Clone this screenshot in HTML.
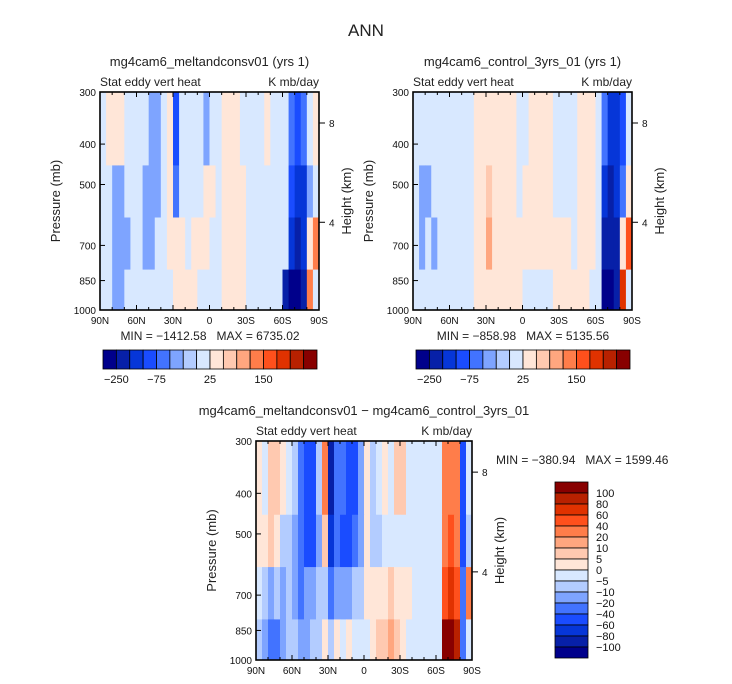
<!DOCTYPE html>
<html><head><meta charset="utf-8">
<style>
html,body{margin:0;padding:0;background:#fff;}
svg{display:block;font-family:"Liberation Sans",sans-serif;}
</style></head>
<body>
<svg id="chart" width="732" height="684" viewBox="0 0 732 684" xmlns="http://www.w3.org/2000/svg">
<text x="366" y="36" font-size="17" text-anchor="middle" fill="#222">ANN</text>
</svg>
<script>
// ---- data ----
const latEdges = [90,85,80,75,70,65,60,55,50,45,40,35,30,25,20,15,10,5,0,-5,-10,-15,-20,-25,-30,-35,-40,-45,-50,-55,-60,-65,-70,-75,-80,-85,-90];
const presEdges = [300,450,600,800,1000];
const presTicks = [300,400,500,700,850,1000];
const heightTicks = ["8","4"];
const heightTickPres = [356,616];
const latTicks = [90,60,30,0,-30,-60,-90];
const latTickLabels = ["90N","60N","30N","0","30S","60S","90S"];
const panelLevels = [-250,-150,-100,-75,-50,-25,0,25,50,75,100,150,200,250,300];
const panelBarLabels = ["-250","-75","25","150"];
const panelBarLabelIdx = [1,4,8,12];
const diffLevels = [-100,-80,-60,-40,-20,-10,-5,0,5,10,20,40,60,80,100];
const diffBarLabels = ["100","80","60","40","20","10","5","0","\u22125","\u221210","\u221220","\u221240","\u221260","\u221280","\u2212100"];
const colors = ["#00008b","#0720a8","#0636d8","#1a4cff","#4273ff","#7ea4ff","#b3ccff","#d8e8ff","#ffe6d8","#ffc9b0","#ffa67f","#ff7d4a","#ff501c","#e03200","#b82100","#880000"];

const meltRow0 = [10,35,35,35,10,10,10,10,-40,-40,10,35,-90,10,10,10,10,-40,10,10,35,35,35,10,10,10,10,35,10,10,10,-60,-90,-60,10,35];
const meltRow1 = [10,10,-40,-40,10,10,10,-40,-40,-40,10,35,-60,10,10,10,10,35,35,10,35,35,35,35,10,10,10,10,10,10,10,-90,-120,-120,-40,10];
const meltRow2 = [10,10,-40,-40,-40,10,10,-40,-40,10,10,35,35,35,10,35,35,35,10,10,35,35,35,35,10,10,10,10,10,10,10,-120,-200,-120,35,120];
const meltRow3 = [10,10,-40,-40,10,10,10,10,10,10,10,10,35,35,35,35,10,10,10,10,35,35,35,35,10,10,10,10,10,10,-200,-300,-300,-200,120,10];

const ctrlRow0 = [10,10,10,10,10,10,10,10,10,10,35,35,35,35,35,35,35,10,10,35,35,35,35,10,10,10,10,35,35,35,10,-60,-150,-150,-90,10];
const ctrlRow1 = [10,-40,-40,10,10,10,10,10,10,10,35,35,60,35,35,35,35,10,35,35,35,35,35,10,10,10,10,35,35,35,10,-150,-200,-150,-60,35];
const ctrlRow2 = [10,-40,10,-40,10,10,10,10,10,10,35,35,90,35,35,35,35,35,35,35,35,35,35,35,35,35,10,35,35,35,10,-200,-200,-200,35,170];
const ctrlRow3 = [10,10,10,10,10,10,10,10,10,10,35,35,35,35,35,35,35,35,10,10,10,10,10,35,35,35,35,35,35,10,10,-300,-300,-250,200,10];

const diffRow0 = [2,-2,7,7,2,-2,-7,-30,-50,-50,-7,30,-90,-30,-30,-50,-50,-15,2,-7,-2,2,-2,7,7,-2,-2,-2,-2,-2,-2,30,30,30,-50,-2];
const diffRow1 = [2,2,7,2,-7,-7,-15,-30,-50,-50,-15,7,-70,-30,-50,-50,-30,-15,2,-7,-7,-2,-2,-2,-2,-2,-2,-2,-2,-2,-2,30,50,30,-50,-7];
const diffRow2 = [-2,-7,-15,-7,-15,-7,-15,-30,-15,-15,-7,-7,-30,-15,-15,-15,-7,-7,2,2,2,2,7,2,2,2,-2,-2,-2,-2,-2,50,70,50,-40,30];
const diffRow3 = [-7,-15,-30,-30,-15,-7,-7,-15,-15,-7,-7,2,-7,2,-2,2,-2,-2,-2,2,7,7,15,7,2,-2,-2,-2,-2,-2,-2,120,120,90,-40,-2];

const minMax1 = "MIN = \u22121412.58   MAX = 6735.02";
const minMax2 = "MIN = \u2212858.98   MAX = 5135.56";
const minMax3 = "MIN = \u2212380.94   MAX = 1599.46";

// ---- drawing ----
const NS = "http://www.w3.org/2000/svg";
const svg = document.getElementById("chart");
function mk(tag, attrs, parent){
  const e = document.createElementNS(NS, tag);
  for (const k in attrs) e.setAttribute(k, attrs[k]);
  (parent||svg).appendChild(e);
  return e;
}
function colorFor(v, levels){
  let i = 0;
  while (i < levels.length && v >= levels[i]) i++;
  return colors[i];
}
function drawPanel(p){
  const g = mk("g", {});
  
  
  const xS = lat => p.x0 + (90 - lat) / 180 * (p.x1 - p.x0);
  const yS = pr => p.y0 + Math.log(pr / 300) / Math.log(1000 / 300) * (p.y1 - p.y0);
  p.rows.forEach((row, r) => {
    row.forEach((v, c) => {
      const xa = xS(latEdges[c]), xb = xS(latEdges[c + 1]);
      const ya = yS(presEdges[r]), yb = yS(presEdges[r + 1]);
      const cell = mk("rect", {x: xa, y: ya, width: xb - xa + 0.4, height: yb - ya + 0.4, fill: colorFor(v, p.levels)}, g);
      
      
    });
  });
  const frame = mk("rect", {x: p.x0, y: p.y0, width: p.x1 - p.x0, height: p.y1 - p.y0, fill: "none", stroke: "#000", "stroke-width": 1.6}, g);
  
  
  presTicks.forEach(pr => {
    const y = yS(pr);
    mk("line", {x1: p.x0, x2: p.x0 + 5, y1: y, y2: y, stroke: "#000"}, g);
    const t = mk("text", {x: p.x0 - 4, y: y + 4, "font-size": 10, "text-anchor": "end", fill: "#111"}, g);
    t.textContent = pr;
    
    
  });
  heightTicks.forEach((h, i) => {
    const y = yS(heightTickPres[i]);
    mk("line", {x1: p.x1, x2: p.x1 + 6, y1: y, y2: y, stroke: "#000"}, g);
    const t = mk("text", {x: p.x1 + 10, y: y + 4, "font-size": 10, fill: "#111"}, g);
    t.textContent = h;
    
    
  });
  for (let lat = 90; lat >= -90; lat -= 10) {
    const x = xS(lat), len = (lat % 30 === 0) ? 5 : 3;
    mk("line", {x1: x, x2: x, y1: p.y1, y2: p.y1 - len, stroke: "#000"}, g);
    mk("line", {x1: x, x2: x, y1: p.y0, y2: p.y0 + len, stroke: "#000"}, g);
  }
  latTicks.forEach((lat, i) => {
    const t = mk("text", {x: xS(lat), y: p.y1 + 14, "font-size": 10, "text-anchor": "middle", fill: "#111"}, g);
    t.textContent = latTickLabels[i];
    
    
  });
  const tt = mk("text", {x: (p.x0 + p.x1) / 2, y: p.y0 - 26, "font-size": 13, "text-anchor": "middle", fill: "#222"}, g);
  tt.textContent = p.title;
  
  
  const sub = mk("text", {x: p.x0, y: p.y0 - 6, "font-size": 12, fill: "#222"}, g);
  sub.textContent = "Stat eddy vert heat";
  
  
  const un = mk("text", {x: p.x1, y: p.y0 - 6, "font-size": 12, "text-anchor": "end", fill: "#222"}, g);
  un.textContent = "K mb/day";
  
  
  const ym = (p.y0 + p.y1) / 2;
  const yl = mk("text", {x: p.x0 - 40, y: ym, "font-size": 13, "text-anchor": "middle", fill: "#222", transform: `rotate(-90 ${p.x0 - 40} ${ym})`}, g);
  yl.textContent = "Pressure (mb)";
  
  
  const hl = mk("text", {x: p.x1 + 32, y: ym, "font-size": 13, "text-anchor": "middle", fill: "#222", transform: `rotate(-90 ${p.x1 + 32} ${ym})`}, g);
  hl.textContent = "Height (km)";
  
  
  const mm = mk("text", {x: p.mmx, y: p.mmy, "font-size": 12, "text-anchor": p.mma, fill: "#222", style: "white-space:pre"}, g);
  mm.textContent = p.minmax;
  
  
}
function hColorbar(x0, x1, y0, y1, name){
  const g = mk("g", {});
  
  
  const w = (x1 - x0) / colors.length;
  colors.forEach((c, i) => {
    const r = mk("rect", {x: x0 + i * w, y: y0, width: w, height: y1 - y0, fill: c, stroke: "#000", "stroke-width": 0.8}, g);
    
    
  });
  panelBarLabels.forEach((lab, i) => {
    const t = mk("text", {x: x0 + panelBarLabelIdx[i] * w, y: y1 + 14, "font-size": 11, "text-anchor": "middle", fill: "#111"}, g);
    t.textContent = lab.replace("-", "\u2212");
    
    
  });
}
drawPanel({name: "panel-meltandconsv01", x0: 100, x1: 319, y0: 92, y1: 310, rows: [meltRow0, meltRow1, meltRow2, meltRow3], levels: panelLevels,
  title: "mg4cam6_meltandconsv01 (yrs 1)", minmax: minMax1, mmx: 210, mmy: 340, mma: "middle"});
drawPanel({name: "panel-control", x0: 413, x1: 632, y0: 92, y1: 310, rows: [ctrlRow0, ctrlRow1, ctrlRow2, ctrlRow3], levels: panelLevels,
  title: "mg4cam6_control_3yrs_01 (yrs 1)", minmax: minMax2, mmx: 523, mmy: 340, mma: "middle"});
drawPanel({name: "panel-difference", x0: 256, x1: 472, y0: 441, y1: 660, rows: [diffRow0, diffRow1, diffRow2, diffRow3], levels: diffLevels,
  title: "mg4cam6_meltandconsv01 \u2212 mg4cam6_control_3yrs_01", minmax: minMax3, mmx: 496, mmy: 464, mma: "start"});
hColorbar(103, 317, 350, 369, "colorbar-meltandconsv01");
hColorbar(416, 630, 350, 369, "colorbar-control");
(function(){
  const g = mk("g", {});
  
  
  const x0 = 555, x1 = 588, y0 = 482, y1 = 658;
  const h = (y1 - y0) / colors.length;
  colors.slice().reverse().forEach((c, i) => {
    const r = mk("rect", {x: x0, y: y0 + i * h, width: x1 - x0, height: h, fill: c, stroke: "#000", "stroke-width": 0.8}, g);
    
    
  });
  diffBarLabels.forEach((lab, i) => {
    const t = mk("text", {x: 596, y: y0 + (i + 1) * h + 4, "font-size": 11, fill: "#111"}, g);
    t.textContent = lab;
    
    
  });
})();
</script>
</body></html>
